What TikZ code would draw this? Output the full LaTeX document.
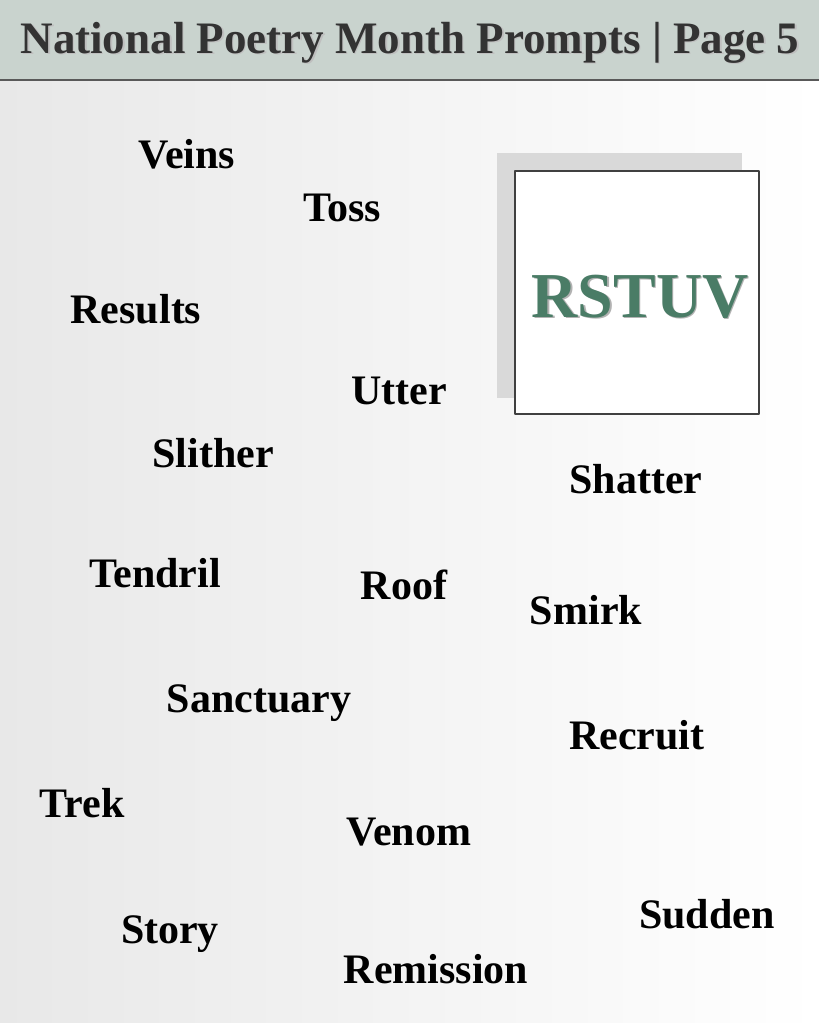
\documentclass[tikz,border=0pt]{standalone}
\usepackage{fontspec}
\setmainfont{Liberation Serif}
\definecolor{headbg}{HTML}{C9D3CE}
\definecolor{headtxt}{HTML}{333333}
\definecolor{lettergreen}{HTML}{4A7C66}
\definecolor{shadowgray}{HTML}{D9D9D9}
\begin{document}
\begin{tikzpicture}[x=1pt,y=-1pt,line join=round,
  word/.style={anchor=base,inner sep=0pt,font=\fontsize{42}{48}\selectfont\bfseries,text=black}]
\useasboundingbox (0,0) rectangle (819,1023);
% background and header band
\shade[left color=black!9,right color=white] (0,80) rectangle (819,1023);
\fill[headbg] (0,0) rectangle (819,80);
\draw[black!65,line width=1.5pt] (0,80) -- (819,80);
\node[anchor=base,inner sep=0pt,text=black!25,font=\fontsize{45}{50}\selectfont\bfseries] at (411.5,54.5) {National Poetry Month Prompts | Page 5};
\node (title)[anchor=base,inner sep=0pt,text=headtxt,font=\fontsize{45}{50}\selectfont\bfseries] at (410,53) {National Poetry Month Prompts | Page 5};
% letter box
\fill[shadowgray] (497,153) rectangle (742,398);
\draw[fill=white,draw=black!75,line width=1.5pt] (515,171) rectangle (759,414);
\node[anchor=base,inner sep=0pt,text=black!30,font=\fontsize{64}{70}\selectfont\bfseries] at (641.5,318.5) {RSTUV};
\node (letters)[anchor=base,inner sep=0pt,text=lettergreen,font=\fontsize{64}{70}\selectfont\bfseries] at (640,317) {RSTUV};
% prompt words
\node[word] (veins) at (187,168) {Veins};
\node[word] (toss) at (342,221) {Toss};
\node[word] (results) at (136,323) {Results};
\node[word] (utter) at (399,404) {Utter};
\node[word] (slither) at (213,467) {Slither};
\node[word] (shatter) at (636,493) {Shatter};
\node[word] (tendril) at (155,587) {Tendril};
\node[word] (roof) at (404,599) {Roof};
\node[word] (smirk) at (586,624) {Smirk};
\node[word] (sanctuary) at (259,712) {Sanctuary};
\node[word] (recruit) at (637,749) {Recruit};
\node[word] (trek) at (82,817) {Trek};
\node[word] (venom) at (409,845) {Venom};
\node[word] (story) at (170,943) {Story};
\node[word] (sudden) at (707,928) {Sudden};
\node[word] (remission) at (436,983) {Remission};
\end{tikzpicture}
\end{document}
